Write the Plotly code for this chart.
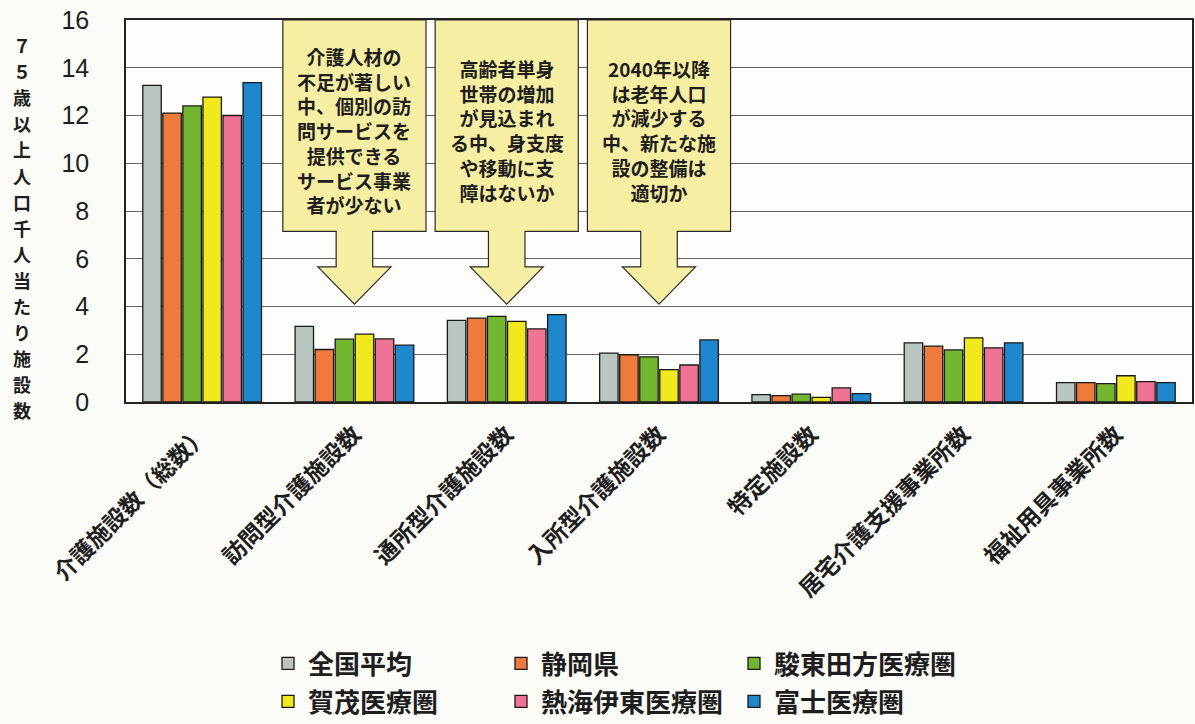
import plotly.graph_objects as go

# Categories (x axis)
categories = [
    "介護施設数（総数）",
    "訪問型介護施設数",
    "通所型介護施設数",
    "入所型介護施設数",
    "特定施設数",
    "居宅介護支援事業所数",
    "福祉用具事業所数",
]

# Facilities per 1,000 people aged 75+
zenkoku = [13.26, 3.17, 3.42, 2.05, 0.31, 2.48, 0.81]
shizuoka = [12.10, 2.20, 3.51, 1.98, 0.27, 2.34, 0.81]
sunto_tagata = [12.40, 2.63, 3.59, 1.89, 0.33, 2.18, 0.77]
kamo = [12.77, 2.84, 3.38, 1.36, 0.19, 2.69, 1.10]
atami_ito = [12.00, 2.64, 3.06, 1.55, 0.59, 2.27, 0.85]
fuji = [13.38, 2.38, 3.66, 2.60, 0.35, 2.48, 0.81]

series_names = ["全国平均", "静岡県", "駿東田方医療圏", "賀茂医療圏", "熱海伊東医療圏", "富士医療圏"]
series_values = [zenkoku, shizuoka, sunto_tagata, kamo, atami_ito, fuji]
series_colors = ["#b9c6c1", "#ee7a3e", "#73b731", "#f1e81e", "#ee7394", "#1f87cd"]
# first three series in the upper legend row, the rest in the lower row
series_legend = ["legend", "legend", "legend", "legend2", "legend2", "legend2"]

y_title = "７５歳以上人口千人当たり施設数"

# Callout notes: (category index, text)
callouts = [
    (1, "介護人材の<br>不足が著しい<br>中、個別の訪<br>問サービスを<br>提供できる<br>サービス事業<br>者が少ない"),
    (2, "高齢者単身<br>世帯の増加<br>が見込まれ<br>る中、身支度<br>や移動に支<br>障はないか"),
    (3, "2040年以降<br>は老年人口<br>が減少する<br>中、新たな施<br>設の整備は<br>適切か"),
]

JP = "Noto Sans CJK JP"
TXT = "#1e1e1e"

W, H = 1195, 724
ML, MR, MT, MB = 126, 3, 20, 322
PW, PH = W - ML - MR, H - MT - MB

fig = go.Figure()
for name, vals, col, lg in zip(series_names, series_values, series_colors, series_legend):
    fig.add_trace(go.Bar(
        x=categories, y=vals, name=name, legend=lg,
        marker=dict(color=col, line=dict(color="#1a1a1a", width=1.3)),
    ))

n_cat = len(categories)


def cat_to_paper(c):
    return (c + 0.5) / n_cat


# Callout boxes with downward arrows
box_top, box_bottom, head_top, tip_y = 16.0, 7.15, 5.66, 4.1
half_box, half_shaft, half_head = 0.47, 0.12, 0.24
for idx, text in callouts:
    cx = idx
    pts = [
        (cx - half_box, box_top), (cx + half_box, box_top), (cx + half_box, box_bottom),
        (cx + half_shaft, box_bottom), (cx + half_shaft, head_top), (cx + half_head, head_top),
        (cx, tip_y), (cx - half_head, head_top), (cx - half_shaft, head_top),
        (cx - half_shaft, box_bottom), (cx - half_box, box_bottom),
    ]
    path = "M " + " L ".join(f"{cat_to_paper(px):.5f},{py}" for px, py in pts) + " Z"
    fig.add_shape(type="path", path=path, xref="paper", yref="y",
                  fillcolor="#f6eea2", line=dict(color="#2a2a2a", width=1.2), layer="above")
    fig.add_annotation(x=cat_to_paper(cx), y=(box_top + box_bottom) / 2 - 0.2,
                       xref="paper", yref="y", text=text, showarrow=False,
                       font=dict(family=JP, size=19, color=TXT, weight="bold"),
                       align="center", xanchor="center", yanchor="middle")

# Vertical y-axis title, one character per annotation
title_x_px, title_top_px, title_pitch = 22, 45, 26.1
for i, ch in enumerate(y_title):
    cy = title_top_px + i * title_pitch
    fig.add_annotation(x=(title_x_px - ML) / PW, y=(MT + PH - cy) / PH,
                       xref="paper", yref="paper", text=ch, showarrow=False,
                       xanchor="center", yanchor="middle",
                       font=dict(family=JP, size=18, color=TXT, weight="bold"))

legend_style = dict(orientation="h", x=(268 - ML) / PW, xanchor="left", yanchor="top",
                    entrywidth=188, entrywidthmode="pixels",
                    font=dict(family=JP, size=26, color=TXT, weight="bold"),
                    bgcolor="rgba(0,0,0,0)", itemwidth=30, tracegroupgap=0)

fig.update_layout(
    width=W, height=H,
    margin=dict(l=ML, r=MR, t=MT, b=MB, autoexpand=False),
    paper_bgcolor="#fbfbf8", plot_bgcolor="#fdfdfb",
    barmode="group", bargap=0.21, bargroupgap=0.08,
    showlegend=True,
    legend=dict(legend_style, y=-(640 - (MT + PH)) / PH),
    legend2=dict(legend_style, y=-(678 - (MT + PH)) / PH),
    xaxis=dict(tickangle=-45, tickfont=dict(family=JP, size=23, color=TXT, weight="bold"),
               showline=True, mirror=True, linecolor="#222", linewidth=1.5,
               showgrid=False, ticks="", ticklabelstandoff=8),
    yaxis=dict(range=[0, 16], dtick=2, tickfont=dict(family="Liberation Sans", size=25, color=TXT),
               showline=True, mirror=True, linecolor="#222", linewidth=1.5,
               showgrid=True, gridcolor="#666666", gridwidth=1, ticks="",
               ticklabelstandoff=30, zeroline=False),
)

fig.write_html("out.html")
